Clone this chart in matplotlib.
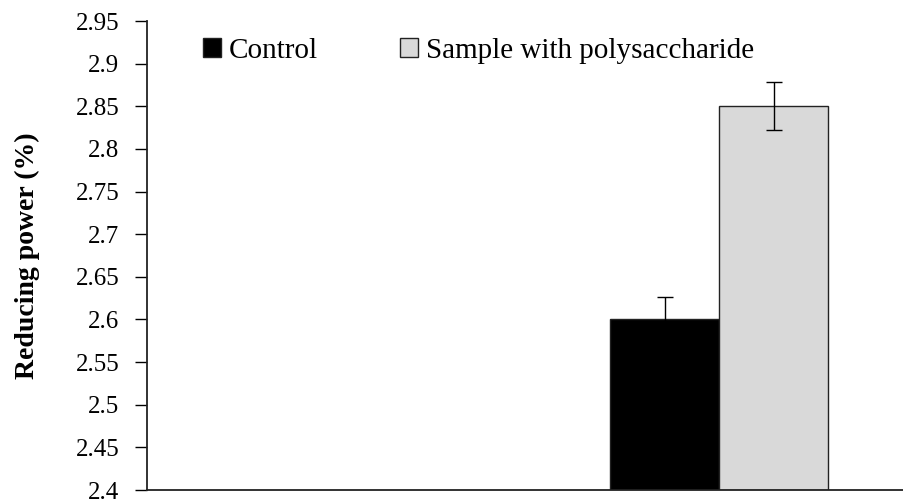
import matplotlib
matplotlib.use("Agg")
import matplotlib.pyplot as plt
import numpy as np

plt.rcParams['font.family'] = ['Liberation Serif', 'DejaVu Serif']

series = ["Control", "Sample with polysaccharide"]
values = [2.60, 2.85]
errors = [0.026, 0.028]
colors = ["#000000", "#d9d9d9"]
yticks = [2.4, 2.45, 2.5, 2.55, 2.6, 2.65, 2.7, 2.75, 2.8, 2.85, 2.9, 2.95]
ytick_labels = ["2.4", "2.45", "2.5", "2.55", "2.6", "2.65", "2.7", "2.75", "2.8", "2.85", "2.9", "2.95"]

fig = plt.figure(figsize=(9.04, 5.04), dpi=100)
ax = fig.add_axes([147 / 904, 1 - 490 / 504, (904 - 147) / 904, (490 - 21) / 504])

group_x = 1.0
width = 0.286
offsets = [-width / 2, width / 2]
for name, v, e, c, off in zip(series, values, errors, colors, offsets):
    ax.bar(group_x + off, v - 2.4, bottom=2.4, width=width, color=c,
           edgecolor="#222222", linewidth=1.0, label=name, zorder=2)
    ax.errorbar(group_x + off, v, yerr=e, fmt="none", ecolor="black",
                elinewidth=1.0, capsize=6, capthick=1.0, zorder=3)

ax.set_xlim(-0.5, 1.485)
ax.set_ylim(2.4, 2.95)
ax.set_yticks(yticks)
ax.set_yticklabels(ytick_labels, fontsize=18)
ax.set_xticks([])
ax.tick_params(axis="y", direction="out", length=9, width=1.0, pad=11)

for s in ["top", "right"]:
    ax.spines[s].set_visible(False)
for s in ["left", "bottom"]:
    ax.spines[s].set_linewidth(1.3)
    ax.spines[s].set_color("#222222")

ax.set_ylabel("Reducing power (%)", fontsize=20, fontweight="bold")
ax.yaxis.set_label_coords(-(147 - 40) / 757, 0.5)

leg = ax.legend(loc="center left", bbox_to_anchor=(0.058, 0.937), ncol=2, frameon=False,
                fontsize=21, handlelength=0.62, handleheight=0.62, handletextpad=0.28,
                columnspacing=2.8, borderaxespad=0)

fig.savefig("out.png", dpi=100)
